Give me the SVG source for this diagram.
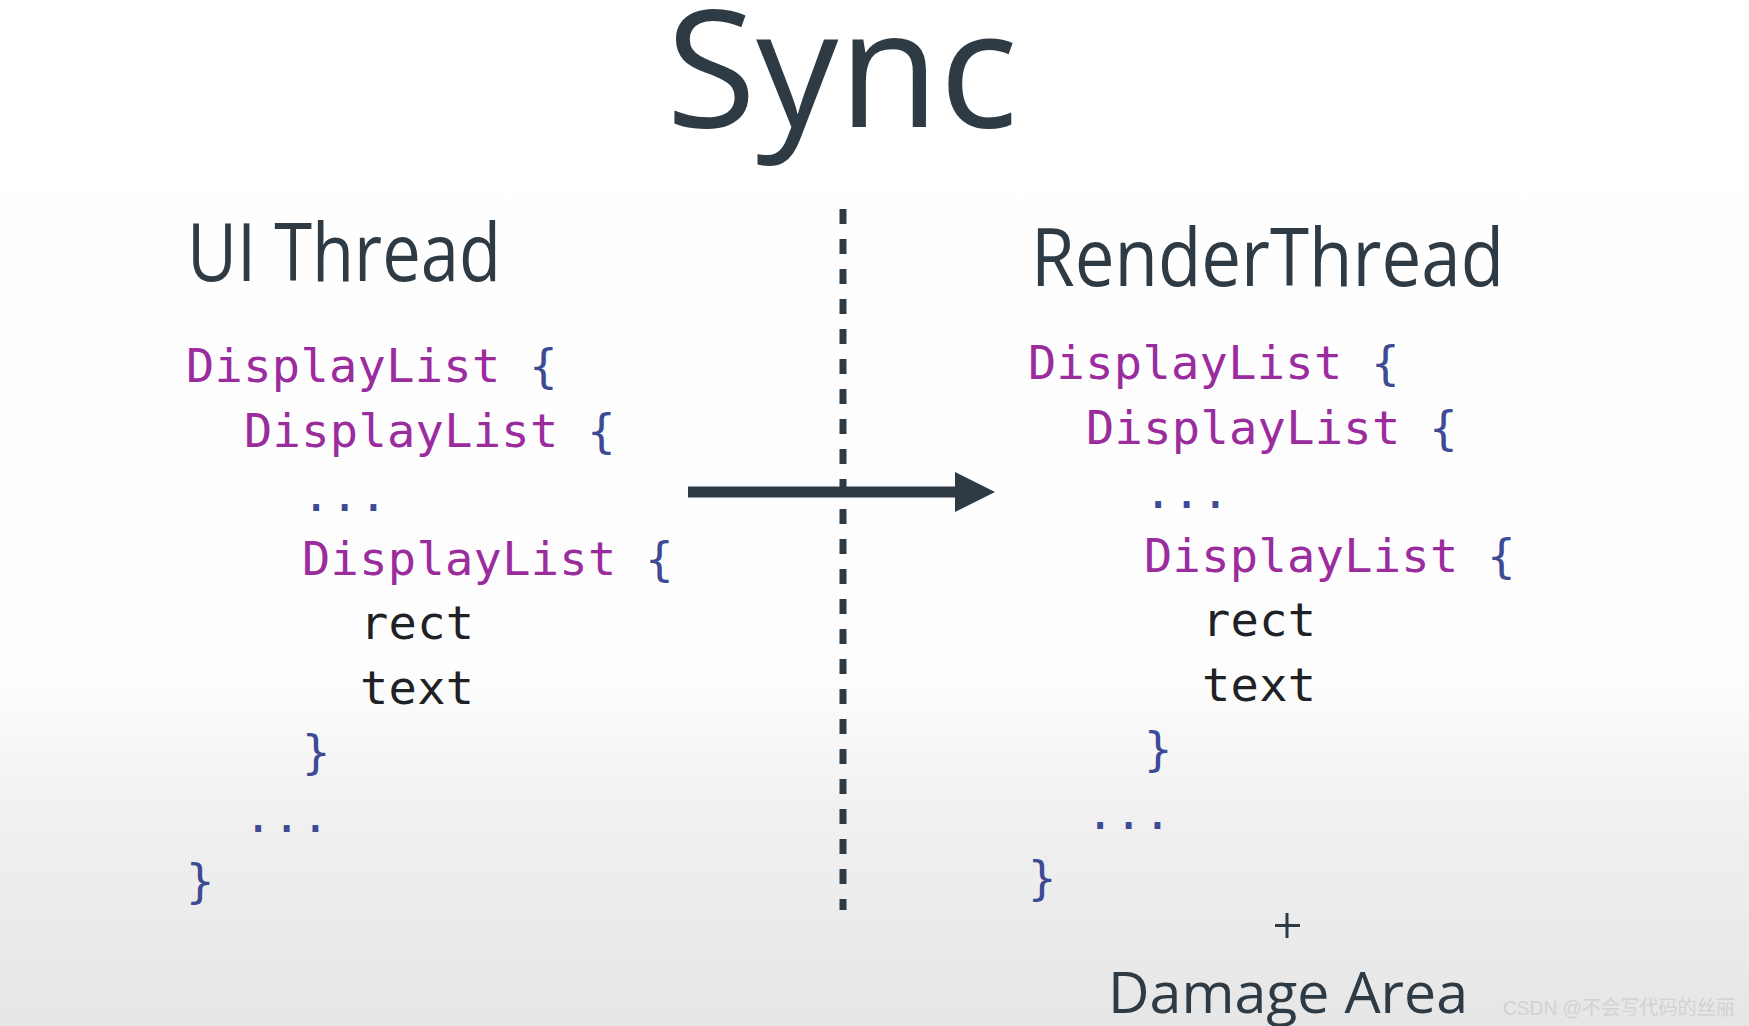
<svg xmlns="http://www.w3.org/2000/svg" width="1749" height="1026" viewBox="0 0 1749 1026">
<defs>
<linearGradient id="bg" x1="0" y1="0" x2="0" y2="1">
<stop offset="0" stop-color="#ffffff"/>
<stop offset="0.66" stop-color="#fdfdfd"/>
<stop offset="0.8" stop-color="#f0f0f0"/>
<stop offset="1" stop-color="#e6e6e6"/>
</linearGradient>
<marker id="ah" viewBox="0 0 40 40" refX="0" refY="20" markerWidth="40" markerHeight="40" markerUnits="userSpaceOnUse" orient="auto">
<path d="M0,0 L40,20 L0,40 Z" fill="#2e3b45"/>
</marker>
<style>
.title{font-family:"Open Sans","Noto Sans",sans-serif;fill:#2e3b45}
.code{font-family:"DejaVu Sans Mono","Liberation Mono",monospace;font-size:47px;letter-spacing:0.3px}
.dl{fill:#9b2c9e}
.br{fill:#3d4a94}
.op{fill:#202124}
.wm{font-family:"Liberation Sans","Noto Sans CJK SC",sans-serif;font-size:20px;fill:#d2d2d2}
</style>
</defs>
<rect width="1749" height="1026" fill="url(#bg)"/>

<g id="title">
<text class="title" x="666" y="127" font-size="163" textLength="352" lengthAdjust="spacingAndGlyphs">Sync</text>
</g>

<g id="ui-thread">
<text class="title" x="187" y="281" font-size="80" textLength="314" lengthAdjust="spacingAndGlyphs">UI Thread</text>
<g class="code">
<text x="186" y="382"><tspan class="dl">DisplayList</tspan><tspan class="br"> {</tspan></text>
<text x="244" y="447"><tspan class="dl">DisplayList</tspan><tspan class="br"> {</tspan></text>
<text x="302" y="511" class="br">...</text>
<text x="302" y="575"><tspan class="dl">DisplayList</tspan><tspan class="br"> {</tspan></text>
<text x="360" y="639" class="op">rect</text>
<text x="360" y="704" class="op">text</text>
<text x="302" y="768" class="br">}</text>
<text x="244" y="832" class="br">...</text>
<text x="186" y="897" class="br">}</text>
</g>
</g>

<g id="render-thread">
<text class="title" x="1031" y="286" font-size="80" textLength="473" lengthAdjust="spacingAndGlyphs">RenderThread</text>
<g class="code">
<text x="1028" y="379"><tspan class="dl">DisplayList</tspan><tspan class="br"> {</tspan></text>
<text x="1086" y="444"><tspan class="dl">DisplayList</tspan><tspan class="br"> {</tspan></text>
<text x="1144" y="508" class="br">...</text>
<text x="1144" y="572"><tspan class="dl">DisplayList</tspan><tspan class="br"> {</tspan></text>
<text x="1202" y="636" class="op">rect</text>
<text x="1202" y="701" class="op">text</text>
<text x="1144" y="765" class="br">}</text>
<text x="1086" y="829" class="br">...</text>
<text x="1028" y="894" class="br">}</text>
</g>
</g>

<g id="damage-area">
<path d="M1287,913 V938 M1275,925.5 H1300" stroke="#2e3b45" stroke-width="3" fill="none"/>
<text class="title" x="1108" y="1013" font-size="57" textLength="360" lengthAdjust="spacingAndGlyphs">Damage Area</text>
</g>

<g id="connectors">
<line x1="843" y1="209" x2="843" y2="910" stroke="#2e3b45" stroke-width="7" stroke-dasharray="15 15"/>
<line x1="688" y1="492" x2="955" y2="492" stroke="#2e3b45" stroke-width="11" marker-end="url(#ah)"/>
</g>

<text class="wm" x="1503" y="1015" textLength="232" lengthAdjust="spacingAndGlyphs">CSDN @不会写代码的丝丽</text>
</svg>
